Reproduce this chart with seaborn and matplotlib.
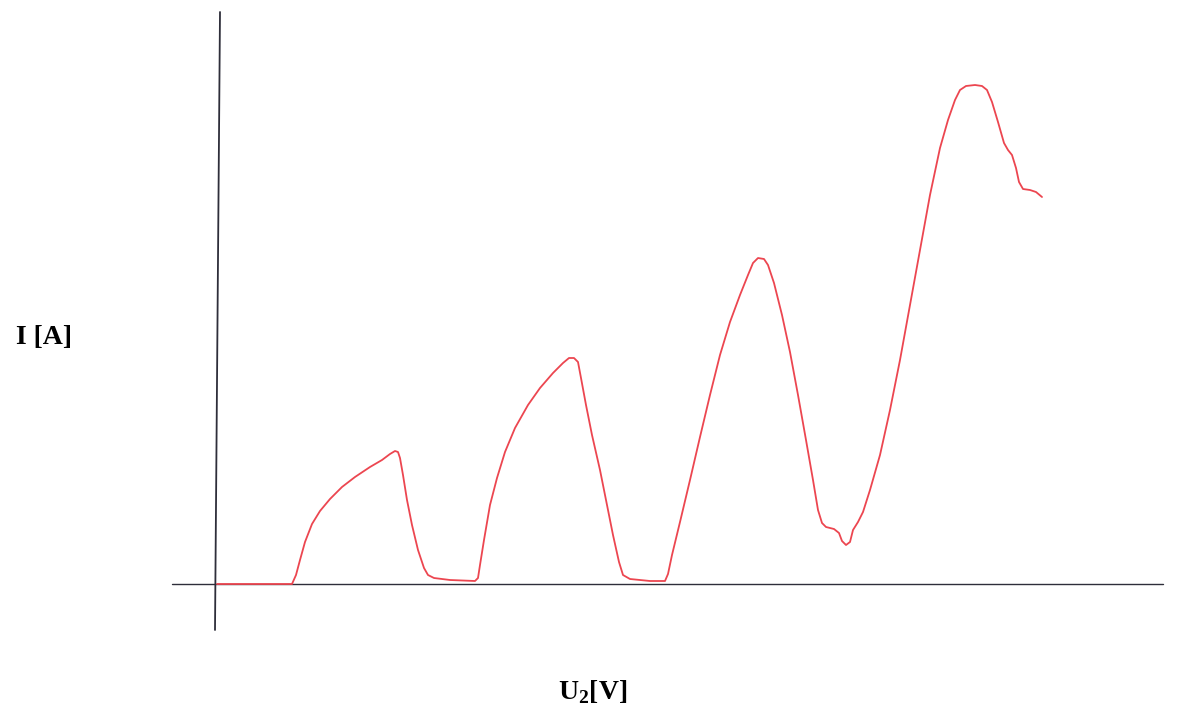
#!/usr/bin/env python3
"""Franck-Hertz style anode current curve, I vs U2 (hand-drawn look)."""

import matplotlib
matplotlib.use("Agg")
import matplotlib.pyplot as plt
import pandas as pd
import seaborn as sns

# curve (arbitrary units, origin at the axis crossing)
u2 = [0, 75, 79, 83, 88, 95, 103, 113, 125, 138, 153, 165, 173, 178, 181,
      183, 186, 190, 195, 201, 207, 211, 217, 233, 258, 261,
      263, 267, 273, 280, 288, 298, 311, 323, 336, 346, 352, 357, 361, 364,
      369, 375, 383, 390, 396, 402, 406, 413, 433, 448, 451,
      455, 463, 473, 483, 493, 503, 513, 523, 531, 536, 541, 547, 551, 557,
      565, 573, 581, 589, 596, 601, 605, 609, 617, 622, 625, 629, 633, 636,
      641, 646, 653, 663, 673, 683, 693, 703, 713, 723, 731, 738, 743, 749,
      758, 765, 770, 775, 781, 787, 791, 795, 799, 802, 806, 813, 819, 825]
current = [0, 0, 9, 24, 42, 60, 73, 85, 97, 107, 117, 124, 130, 133, 132,
           126, 109, 84, 59, 34, 16, 9, 6, 4, 3, 6,
           19, 44, 79, 106, 132, 156, 179, 196, 211, 221, 226, 226, 222, 206,
           179, 149, 114, 79, 49, 22, 9, 5, 3, 3, 10,
           29, 62, 104, 147, 189, 229, 262, 289, 309, 321, 326, 325, 319, 301,
           269, 232, 189, 144, 104, 74, 61, 57, 55, 51, 43, 39, 42, 54,
           62, 72, 94, 129, 174, 224, 279, 334, 389, 436, 464, 484, 494, 498,
           499, 498, 494, 482, 462, 441, 434, 429, 416, 402, 395, 394, 392, 387]

# hand-drawn axes (slightly slanted vertical)
yaxis_x = [3, -2]
yaxis_y = [572, -46]
xaxis_x = [-45, 946]
xaxis_y = [0, 0]

sns.set_style("white")
plt.rcParams["font.family"] = ["Liberation Serif", "DejaVu Serif"]
plt.rcParams["mathtext.fontset"] = "custom"
plt.rcParams["mathtext.bf"] = "Liberation Serif:bold"
plt.rcParams["mathtext.rm"] = "Liberation Serif"

fig = plt.figure(figsize=(11.97, 7.09), dpi=100)
ax = fig.add_axes([0, 0, 1, 1])

ax.plot(yaxis_x, yaxis_y, color="#2e2e3a", lw=1.3)
ax.plot(xaxis_x, xaxis_y, color="#2e2e3a", lw=1.0)

df = pd.DataFrame({"U2": u2, "I": current})
sns.lineplot(data=df, x="U2", y="I", sort=False, color="#ec4650", lw=1.3,
             solid_joinstyle="round", ax=ax)

ax.set_xlim(-217, 980)
ax.set_ylim(-125, 584)
ax.axis("off")

fig.text(44 / 1197, 1 - 338 / 709, "I [A]", fontsize=20, fontweight="bold",
         color="black", ha="center", va="center")
fig.text(593 / 1197, 1 - 692 / 709, r"U$_\mathbf{2}$[V]", fontsize=20,
         fontweight="bold", color="black", ha="center", va="center")

fig.savefig("out.png", dpi=100)
